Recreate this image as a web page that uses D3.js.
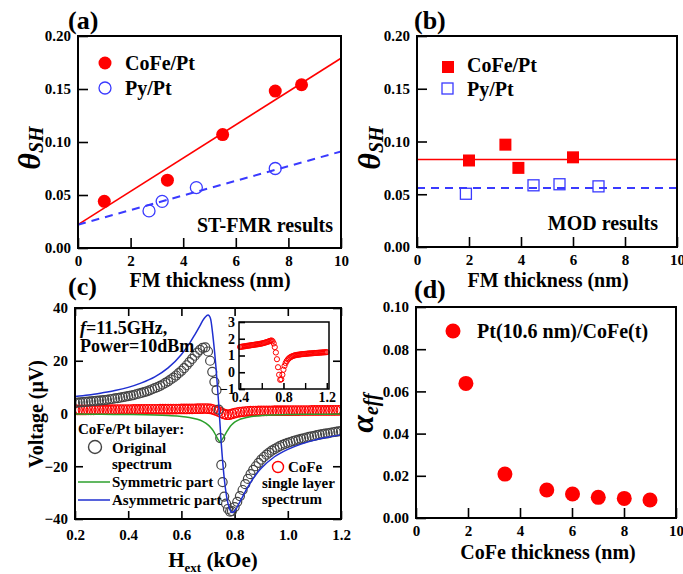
<!DOCTYPE html>
<html>
<head>
<meta charset="utf-8">
<script src="https://cdn.jsdelivr.net/npm/d3@7"></script>
<style>
  body { margin: 0; background: #fff; }
  svg text { font-family: "Liberation Serif", "Times New Roman", serif; font-weight: bold; }
</style>
</head>
<body>
<svg id="fig" width="683" height="574"></svg>
<script>
// ---- (a) ST-FMR results ----
var aCoFeT = [1.0, 3.4, 5.5, 7.5, 8.5];
var aCoFe = [0.044, 0.064, 0.107, 0.148, 0.154];
var aPyT = [2.7, 3.2, 4.5, 7.5];
var aPy = [0.035, 0.044, 0.057, 0.075];
var aFitT = [0, 10];
var aFitCoFe = [0.022, 0.179];
var aFitPy = [0.022, 0.091];

// ---- (b) MOD results ----
var bCoFeT = [2.0, 3.4, 3.9, 6.0];
var bCoFe = [0.082, 0.097, 0.075, 0.085];
var bPyT = [1.9, 4.5, 5.5, 7.0];
var bPy = [0.050, 0.058, 0.059, 0.057];
var bFitT = [0, 10];
var bFitCoFe = [0.083, 0.083];
var bFitPy = [0.056, 0.056];

// ---- (c) spectra, [H (kOe), V (uV)] ----
var cOriginal = [
  [0.20,4.0],[0.21,4.1],[0.22,4.2],[0.23,4.3],[0.24,4.4],[0.25,4.5],[0.26,4.6],[0.27,4.7],[0.28,4.8],[0.29,4.9],
  [0.30,5.0],[0.31,5.1],[0.32,5.2],[0.33,5.4],[0.34,5.5],[0.35,5.7],[0.36,5.8],[0.37,6.0],[0.38,6.2],[0.39,6.4],
  [0.40,6.6],[0.41,6.8],[0.42,7.0],[0.43,7.3],[0.44,7.5],[0.45,7.8],[0.46,8.1],[0.47,8.4],[0.48,8.8],[0.49,9.2],
  [0.50,9.6],[0.51,10.0],[0.52,10.5],[0.53,11.0],[0.54,11.6],[0.55,12.2],[0.56,12.9],[0.57,13.6],[0.58,14.4],[0.59,15.3],
  [0.60,16.2],[0.61,17.2],[0.62,18.3],[0.63,19.5],[0.64,20.7],[0.65,21.9],[0.66,23.1],[0.67,24.1],[0.68,24.9],[0.69,25.1],
  [0.700,23.5],[0.708,20.0],[0.716,15.8],[0.724,12.0],[0.732,8.9],[0.740,1.5],[0.746,-9.3],[0.750,-19.5],[0.755,-26.0],
  [0.761,-31.5],[0.768,-34.2],[0.775,-36.2],[0.783,-37.2],
  [0.79,-37.0],[0.80,-35.5],[0.81,-33.5],[0.82,-31.3],[0.83,-29.0],[0.84,-26.8],[0.85,-24.8],[0.86,-23.0],[0.87,-21.4],[0.88,-20.0],
  [0.89,-18.7],[0.90,-17.5],[0.91,-16.5],[0.92,-15.6],[0.93,-14.8],[0.94,-14.1],[0.95,-13.5],[0.96,-12.9],[0.97,-12.4],[0.98,-11.9],
  [0.99,-11.5],[1.00,-11.1],[1.01,-10.8],[1.02,-10.5],[1.03,-10.2],[1.04,-9.9],[1.05,-9.6],[1.06,-9.4],[1.07,-9.1],[1.08,-8.9],
  [1.09,-8.7],[1.10,-8.5],[1.11,-8.2],[1.12,-8.0],[1.13,-7.8],[1.14,-7.6],[1.15,-7.5],[1.16,-7.3],[1.17,-7.1],[1.18,-7.0],
  [1.19,-6.8],[1.20,-6.7]
];
var cSingle = [
  [0.20,1.35],[0.21,1.36],[0.22,1.37],[0.23,1.38],[0.24,1.38],[0.25,1.39],[0.26,1.40],[0.27,1.41],[0.28,1.42],[0.29,1.42],
  [0.30,1.43],[0.31,1.44],[0.32,1.45],[0.33,1.46],[0.34,1.46],[0.35,1.47],[0.36,1.48],[0.37,1.49],[0.38,1.50],[0.39,1.50],
  [0.40,1.51],[0.41,1.52],[0.42,1.53],[0.43,1.54],[0.44,1.55],[0.45,1.56],[0.46,1.57],[0.47,1.58],[0.48,1.59],[0.49,1.60],
  [0.50,1.61],[0.51,1.62],[0.52,1.63],[0.53,1.64],[0.54,1.65],[0.55,1.66],[0.56,1.67],[0.57,1.68],[0.58,1.69],[0.59,1.70],
  [0.60,1.72],[0.61,1.73],[0.62,1.75],[0.63,1.77],[0.64,1.79],[0.65,1.81],[0.66,1.83],[0.67,1.86],[0.68,1.88],[0.69,1.90],
  [0.70,1.85],[0.71,1.72],[0.72,1.50],[0.73,1.18],[0.74,0.78],[0.75,0.30],[0.76,-0.15],[0.77,-0.45],[0.78,-0.42],[0.79,-0.15],
  [0.80,0.15],[0.81,0.38],[0.82,0.55],[0.83,0.67],[0.84,0.76],[0.85,0.83],[0.86,0.88],[0.87,0.92],[0.88,0.95],[0.89,0.98],
  [0.90,1.00],[0.91,1.02],[0.92,1.03],[0.93,1.04],[0.94,1.05],[0.95,1.06],[0.96,1.07],[0.97,1.08],[0.98,1.08],[0.99,1.09],
  [1.00,1.10],[1.01,1.10],[1.02,1.11],[1.03,1.12],[1.04,1.12],[1.05,1.13],[1.06,1.13],[1.07,1.14],[1.08,1.14],[1.09,1.15],
  [1.10,1.15],[1.11,1.16],[1.12,1.16],[1.13,1.17],[1.14,1.17],[1.15,1.18],[1.16,1.18],[1.17,1.19],[1.18,1.19],[1.19,1.20],
  [1.20,1.20]
];
var cSymmetric = [
  [0.20,-0.2],[0.30,-0.3],[0.40,-0.4],[0.50,-0.6],[0.55,-0.8],[0.60,-1.1],[0.63,-1.5],[0.66,-2.2],[0.68,-3.0],[0.70,-4.3],
  [0.71,-5.3],[0.72,-6.6],[0.73,-8.4],[0.74,-10.2],[0.745,-10.7],[0.75,-10.3],[0.76,-8.8],[0.77,-7.0],[0.78,-5.4],[0.79,-4.2],
  [0.80,-3.3],[0.82,-2.2],[0.85,-1.4],[0.90,-0.8],[1.00,-0.4],[1.10,-0.3],[1.20,-0.2]
];
var cAsymmetric = [
  [0.20,6.4],[0.25,7.0],[0.30,7.8],[0.35,8.7],[0.40,9.9],[0.45,11.6],[0.50,13.9],[0.55,17.3],[0.60,22.4],[0.63,26.5],
  [0.65,29.8],[0.67,33.3],[0.68,35.2],[0.69,36.6],[0.70,37.3],[0.705,37.0],[0.71,35.8],[0.72,28.0],[0.73,17.5],[0.74,4.0],
  [0.75,-11.5],[0.76,-23.5],[0.77,-31.5],[0.78,-35.8],[0.79,-37.5],[0.80,-37.0],[0.82,-33.5],[0.85,-27.8],[0.88,-23.2],
  [0.90,-20.8],[0.95,-16.4],[1.00,-13.6],[1.05,-11.6],[1.10,-10.1],[1.15,-9.0],[1.20,-8.1]
];

// ---- (d) damping ----
var dT = [1.92, 3.42, 5.03, 6.02, 7.01, 8.01, 9.0];
var dAlpha = [0.0638, 0.0208, 0.0133, 0.0114, 0.0098, 0.0093, 0.0085];

// ---- tick labels ----
var thickTicks = [0, 2, 4, 6, 8, 10];
var thetaTicks = [0, 0.05, 0.10, 0.15, 0.20];
var fieldTicks = [0.2, 0.4, 0.6, 0.8, 1.0, 1.2];
var voltTicks = [-40, -20, 0, 20, 40];
var alphaTicks = [0, 0.02, 0.04, 0.06, 0.08, 0.10];
var insetXTicks = [0.4, 0.8, 1.2];
var insetXMinor = [0.6, 1.0];
var insetYTicks = [-1, 0, 1, 2, 3];

var RED = "#ff0000", BLUE = "#3a3aff", GREEN = "#2ca02c", DBLUE = "#1f2fd0", GREY = "#444";

var svg = d3.select("#fig");

function makePanel(box, xDom, yDom, xTicks, yTicks, xFmt, yFmt, mirror, fs) {
  var x = d3.scaleLinear().domain(xDom).range([box.l, box.r]);
  var y = d3.scaleLinear().domain(yDom).range([box.b, box.t]);
  var tk = box.tick || 10;
  fs = fs || 15;
  var gx = svg.append("g").attr("transform", "translate(0," + box.b + ")")
    .call(d3.axisBottom(x).tickValues(xTicks).tickFormat(xFmt).tickSizeInner(-tk).tickSizeOuter(0).tickPadding(box.xpad || 7));
  var gy = svg.append("g").attr("transform", "translate(" + box.l + ",0)")
    .call(d3.axisLeft(y).tickValues(yTicks).tickFormat(yFmt).tickSizeInner(-tk).tickSizeOuter(0).tickPadding(box.ypad || 7));
  [gx, gy].forEach(function (g) {
    g.attr("font-family", null).attr("font-size", fs);
    g.select(".domain").remove();
    g.selectAll("line").attr("stroke", "#000").attr("stroke-width", 1.6);
    g.selectAll("text").attr("fill", "#000");
  });
  if (mirror) {
    svg.append("g").attr("transform", "translate(0," + box.t + ")")
      .call(d3.axisTop(x).tickValues(xTicks).tickFormat("").tickSizeInner(-tk).tickSizeOuter(0))
      .call(function (g) { g.select(".domain").remove(); g.selectAll("line").attr("stroke-width", 1.6); });
    svg.append("g").attr("transform", "translate(" + box.r + ",0)")
      .call(d3.axisRight(y).tickValues(yTicks).tickFormat("").tickSizeInner(-tk).tickSizeOuter(0))
      .call(function (g) { g.select(".domain").remove(); g.selectAll("line").attr("stroke-width", 1.6); });
  }
  return { x: x, y: y, box: box };
}

function frame(box, w) {
  svg.append("rect").attr("x", box.l).attr("y", box.t)
    .attr("width", box.r - box.l).attr("height", box.b - box.t)
    .attr("fill", "none").attr("stroke", "#000").attr("stroke-width", w || 2);
}

function label(x, y, txt, size, anchor) {
  return svg.append("text").attr("x", x).attr("y", y).attr("font-size", size)
    .attr("text-anchor", anchor || "start").text(txt);
}

function thetaLabel(cx, cy) {
  var t = svg.append("text").attr("transform", "translate(" + cx + "," + cy + ") rotate(-90)")
    .attr("text-anchor", "middle").attr("font-style", "italic");
  t.append("tspan").attr("font-size", 32).text("θ");
  t.append("tspan").attr("font-size", 20).attr("dy", 3).text("SH");
}

var fmt2 = d3.format(".2f");

// ================= (a) =================
var pa = makePanel({ l: 78, r: 341, t: 36, b: 248 }, [0, 10], [0, 0.2], thickTicks, thetaTicks, d3.format("d"), fmt2);
var lineA = d3.line().x(function (d) { return pa.x(d[0]); }).y(function (d) { return pa.y(d[1]); });
svg.append("path").datum(aFitT.map(function (t, i) { return [t, aFitCoFe[i]]; }))
  .attr("d", lineA).attr("fill", "none").attr("stroke", RED).attr("stroke-width", 1.6);
svg.append("path").datum(aFitT.map(function (t, i) { return [t, aFitPy[i]]; }))
  .attr("d", lineA).attr("fill", "none").attr("stroke", BLUE).attr("stroke-width", 2).attr("stroke-dasharray", "8,6");
svg.selectAll(".aco").data(aCoFeT).enter().append("circle")
  .attr("cx", function (d) { return pa.x(d); }).attr("cy", function (d, i) { return pa.y(aCoFe[i]); })
  .attr("r", 6.5).attr("fill", RED);
svg.selectAll(".apy").data(aPyT).enter().append("circle")
  .attr("cx", function (d) { return pa.x(d); }).attr("cy", function (d, i) { return pa.y(aPy[i]); })
  .attr("r", 6).attr("fill", "none").attr("stroke", BLUE).attr("stroke-width", 1.3);
frame(pa.box);
svg.append("circle").attr("cx", 105).attr("cy", 63).attr("r", 6.5).attr("fill", RED);
svg.append("circle").attr("cx", 105).attr("cy", 88).attr("r", 6).attr("fill", "none").attr("stroke", BLUE).attr("stroke-width", 1.3);
label(125, 70, "CoFe/Pt", 20);
label(125, 95, "Py/Pt", 20);
label(333, 232, "ST-FMR results", 20, "end");
label(68, 29, "(a)", 26);
thetaLabel(40, 148);
label(210, 287, "FM thickness (nm)", 20, "middle");

// ================= (b) =================
var pb = makePanel({ l: 417, r: 677, t: 36, b: 247 }, [0, 10], [0, 0.2], thickTicks, thetaTicks, d3.format("d"), fmt2);
var lineB = d3.line().x(function (d) { return pb.x(d[0]); }).y(function (d) { return pb.y(d[1]); });
svg.append("path").datum(bFitT.map(function (t, i) { return [t, bFitCoFe[i]]; }))
  .attr("d", lineB).attr("fill", "none").attr("stroke", RED).attr("stroke-width", 1.6);
svg.append("path").datum(bFitT.map(function (t, i) { return [t, bFitPy[i]]; }))
  .attr("d", lineB).attr("fill", "none").attr("stroke", BLUE).attr("stroke-width", 2).attr("stroke-dasharray", "8,6");
var sq = 12;
svg.selectAll(".bco").data(bCoFeT).enter().append("rect")
  .attr("x", function (d) { return pb.x(d) - sq / 2; }).attr("y", function (d, i) { return pb.y(bCoFe[i]) - sq / 2; })
  .attr("width", sq).attr("height", sq).attr("fill", RED);
svg.selectAll(".bpy").data(bPyT).enter().append("rect")
  .attr("x", function (d) { return pb.x(d) - sq / 2; }).attr("y", function (d, i) { return pb.y(bPy[i]) - sq / 2; })
  .attr("width", sq - 1).attr("height", sq - 1).attr("fill", "none").attr("stroke", BLUE).attr("stroke-width", 1.3);
frame(pb.box);
svg.append("rect").attr("x", 442).attr("y", 61).attr("width", sq).attr("height", sq).attr("fill", RED);
svg.append("rect").attr("x", 442).attr("y", 83).attr("width", sq - 1).attr("height", sq - 1)
  .attr("fill", "none").attr("stroke", BLUE).attr("stroke-width", 1.3);
label(467, 72, "CoFe/Pt", 20);
label(467, 96, "Py/Pt", 20);
label(658, 230, "MOD results", 20, "end");
label(414, 29, "(b)", 26);
thetaLabel(380, 148);
label(548, 287, "FM thickness (nm)", 20, "middle");

// ================= (c) =================
var pc = makePanel({ l: 75, r: 341, t: 308, b: 519, tick: 8, xpad: 10 }, [0.2, 1.2], [-40, 40], fieldTicks, voltTicks, d3.format(".1f"), d3.format("d"), true);
svg.append("defs").append("clipPath").attr("id", "clipC").append("rect")
  .attr("x", 75).attr("y", 308).attr("width", 266).attr("height", 211);
var gc = svg.append("g").attr("clip-path", "url(#clipC)");
gc.selectAll(".single").data(cSingle).enter().append("circle")
  .attr("cx", function (d) { return pc.x(d[0]); }).attr("cy", function (d) { return pc.y(d[1]); })
  .attr("r", 4.8).attr("fill", "none").attr("stroke", RED).attr("stroke-width", 1.1);
gc.selectAll(".orig").data(cOriginal).enter().append("circle")
  .attr("cx", function (d) { return pc.x(d[0]); }).attr("cy", function (d) { return pc.y(d[1]); })
  .attr("r", 4.5).attr("fill", "none").attr("stroke", GREY).attr("stroke-width", 1.2);
var lineC = d3.line().x(function (d) { return pc.x(d[0]); }).y(function (d) { return pc.y(d[1]); }).curve(d3.curveMonotoneX);
gc.append("path").datum(cSymmetric).attr("d", lineC).attr("fill", "none").attr("stroke", GREEN).attr("stroke-width", 1.5);
gc.append("path").datum(cAsymmetric).attr("d", lineC).attr("fill", "none").attr("stroke", DBLUE).attr("stroke-width", 1.5);
frame(pc.box);
label(68, 295, "(c)", 26);
var ctxt = svg.append("text").attr("x", 80).attr("y", 334).attr("font-size", 18);
ctxt.append("tspan").attr("font-style", "italic").text("f");
ctxt.append("tspan").text("=11.5GHz,");
label(80, 352, "Power=10dBm", 18);
label(78, 434, "CoFe/Pt bilayer:", 15);
svg.append("circle").attr("cx", 95).attr("cy", 447).attr("r", 6.5).attr("fill", "none").attr("stroke", GREY).attr("stroke-width", 1.4);
label(112, 453, "Original", 15);
label(112, 469, "spectrum", 15);
svg.append("line").attr("x1", 78).attr("x2", 110).attr("y1", 482).attr("y2", 482).attr("stroke", GREEN).attr("stroke-width", 1.5);
label(112, 487, "Symmetric part", 15);
svg.append("line").attr("x1", 78).attr("x2", 110).attr("y1", 500).attr("y2", 500).attr("stroke", DBLUE).attr("stroke-width", 1.5);
label(112, 505, "Asymmetric part", 15);
svg.append("circle").attr("cx", 278).attr("cy", 467).attr("r", 5.5).attr("fill", "none").attr("stroke", RED).attr("stroke-width", 1.4);
label(288, 472, "CoFe", 15);
label(262, 488, "single layer", 15);
label(262, 504, "spectrum", 15);
var vlab = svg.append("text").attr("transform", "translate(43,414) rotate(-90)").attr("text-anchor", "middle").attr("font-size", 20);
vlab.text("Voltage (μV)");
var hlab = svg.append("text").attr("x", 213).attr("y", 567).attr("text-anchor", "middle").attr("font-size", 21);
hlab.append("tspan").text("H");
hlab.append("tspan").attr("font-size", 13).attr("dy", 5).text("ext");
hlab.append("tspan").attr("dy", -5).text(" (kOe)");

// inset
var ib = { l: 239, r: 329, t: 322, b: 389, tick: 6, xpad: 3, ypad: 4 };
svg.append("rect").attr("x", ib.l).attr("y", ib.t).attr("width", ib.r - ib.l).attr("height", ib.b - ib.t).attr("fill", "#fff");
var pi = makePanel(ib, [0.39, 1.22], [-1, 3], insetXTicks, insetYTicks, d3.format(".1f"), d3.format("d"), false, 14);
svg.append("g").attr("transform", "translate(0," + ib.b + ")")
  .call(d3.axisBottom(pi.x).tickValues(insetXMinor).tickFormat("").tickSizeInner(-6).tickSizeOuter(0))
  .call(function (g) { g.select(".domain").remove(); g.selectAll("line").attr("stroke-width", 1.4); });
svg.append("g").selectAll("circle").data(cSingle.filter(function (d) { return d[0] >= 0.4; })).enter().append("circle")
  .attr("cx", function (d) { return pi.x(d[0]); }).attr("cy", function (d) { return pi.y(d[1]); })
  .attr("r", 2.6).attr("fill", "none").attr("stroke", RED).attr("stroke-width", 1);
frame(ib, 1.5);

// ================= (d) =================
var pd = makePanel({ l: 416, r: 676, t: 307, b: 518 }, [0, 10], [0, 0.1], thickTicks, alphaTicks, d3.format("d"), fmt2);
svg.selectAll(".dpt").data(dT).enter().append("circle")
  .attr("cx", function (d) { return pd.x(d); }).attr("cy", function (d, i) { return pd.y(dAlpha[i]); })
  .attr("r", 7.5).attr("fill", RED);
frame(pd.box);
svg.append("circle").attr("cx", 453).attr("cy", 331).attr("r", 7.5).attr("fill", RED);
label(477, 338, "Pt(10.6 nm)/CoFe(t)", 20);
label(414, 298, "(d)", 26);
var alab = svg.append("text").attr("transform", "translate(373,413) rotate(-90)").attr("text-anchor", "middle").attr("font-style", "italic");
alab.append("tspan").attr("font-size", 32).text("α");
alab.append("tspan").attr("font-size", 20).attr("dy", 5).text("eff");
label(548, 559, "CoFe thickness (nm)", 20, "middle");
</script>
</body>
</html>
